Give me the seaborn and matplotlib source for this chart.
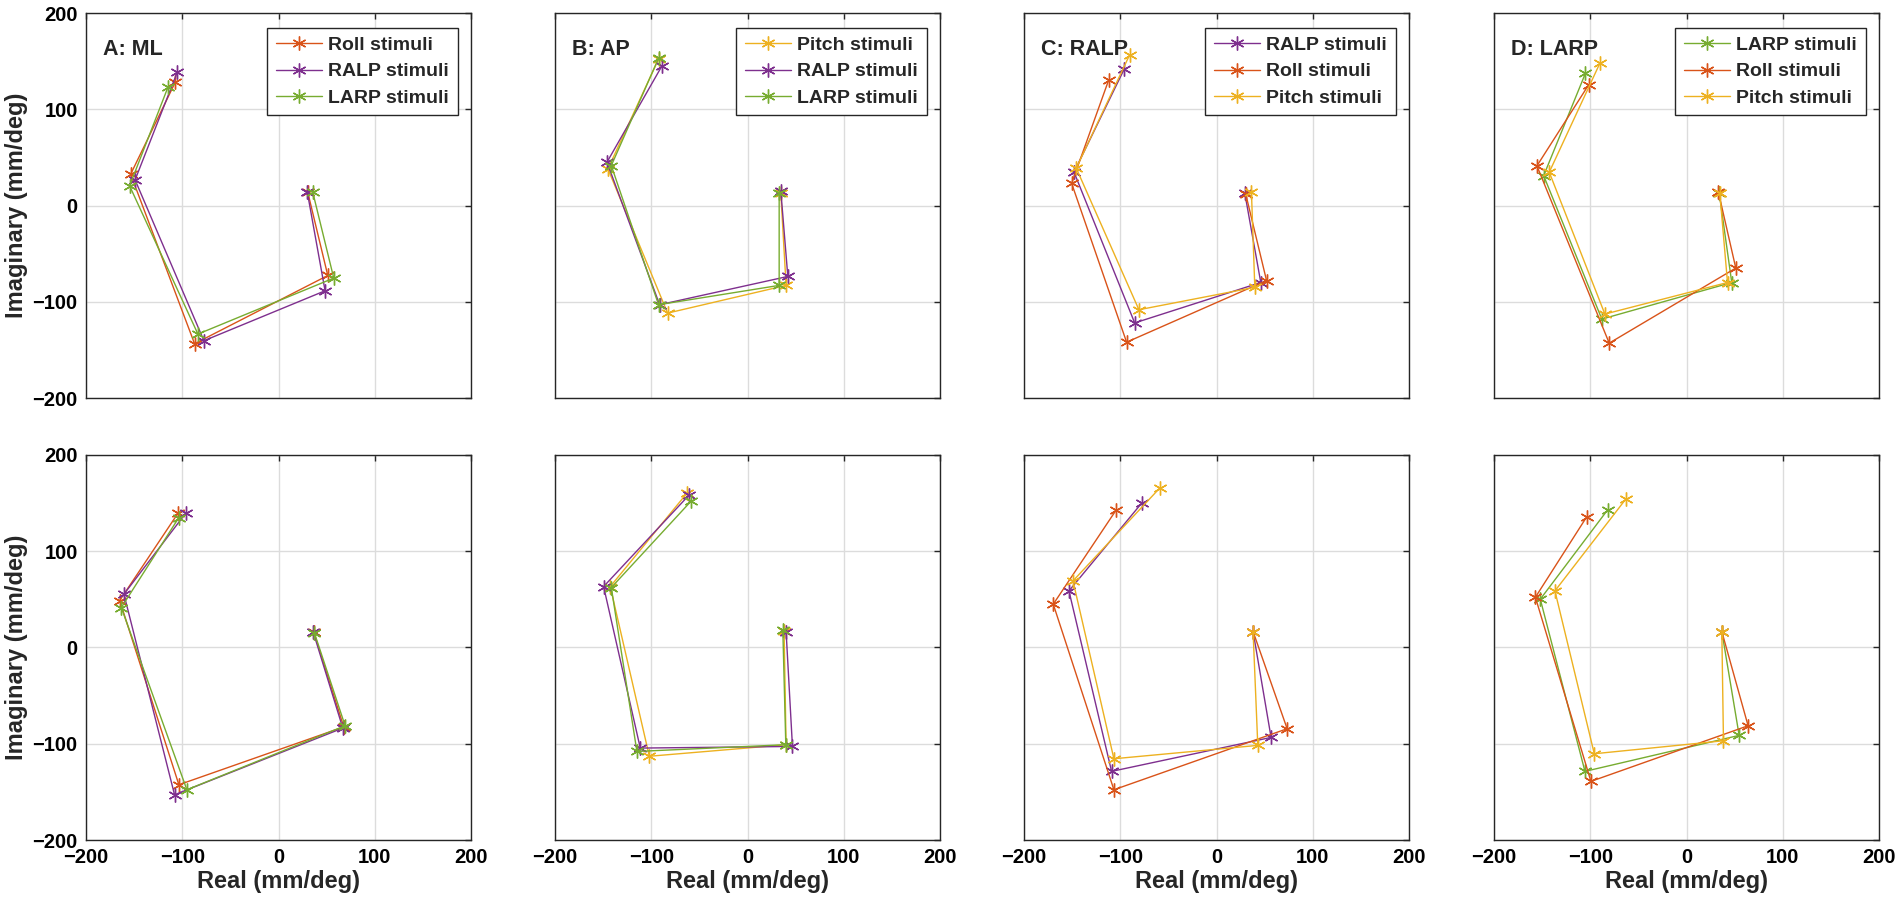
import matplotlib
matplotlib.use("Agg")
import matplotlib.pyplot as plt
import seaborn as sns
import pandas as pd

sns.set_style("white")
plt.rcParams['font.family'] = ['Liberation Sans', 'DejaVu Sans']
plt.rcParams['font.weight'] = 'bold'

# colours (MATLAB default order)
colors = {
    'Roll stimuli': '#D95319',
    'Pitch stimuli': '#EDB120',
    'RALP stimuli': '#7E2F8E',
    'LARP stimuli': '#77AC30',
}

titles = ['A: ML', 'B: AP', 'C: RALP', 'D: LARP']
legend_order = [
    ['Roll stimuli', 'RALP stimuli', 'LARP stimuli'],
    ['Pitch stimuli', 'RALP stimuli', 'LARP stimuli'],
    ['RALP stimuli', 'Roll stimuli', 'Pitch stimuli'],
    ['LARP stimuli', 'Roll stimuli', 'Pitch stimuli'],
]

# ---- top row: real / imaginary parts, 5 points per curve ----
top_A_roll_re = [30.4, 51.2, -87.2, -153.6, -107.3]
top_A_roll_im = [13.8, -72.7, -143.6, 32.5, 128.0]
top_A_ralp_re = [29.8, 48.4, -77.5, -149.0, -105.2]
top_A_ralp_im = [14.5, -88.6, -140.5, 26.6, 138.4]
top_A_larp_re = [35.6, 57.4, -83.7, -154.7, -114.9]
top_A_larp_im = [13.8, -75.4, -133.6, 20.4, 122.8]

top_B_pitch_re = [34.6, 40.1, -83.0, -145.0, -92.4]
top_B_pitch_im = [12.8, -83.0, -111.8, 38.0, 152.2]
top_B_ralp_re = [34.6, 41.9, -91.3, -146.0, -88.9]
top_B_ralp_im = [15.2, -73.7, -103.1, 45.0, 145.0]
top_B_larp_re = [32.9, 32.9, -92.4, -141.5, -92.4]
top_B_larp_im = [12.8, -83.0, -103.1, 41.5, 153.0]

top_C_ralp_re = [29.4, 46.0, -85.0, -148.0, -96.0]
top_C_ralp_im = [12.8, -80.0, -122.0, 34.6, 141.5]
top_C_roll_re = [30.4, 52.0, -93.4, -150.5, -112.0]
top_C_roll_im = [11.8, -78.0, -142.0, 23.0, 130.4]
top_C_pitch_re = [36.3, 39.8, -80.6, -145.7, -90.3]
top_C_pitch_im = [13.8, -85.0, -108.3, 38.8, 156.4]

top_D_larp_re = [34.0, 47.0, -88.0, -148.4, -105.0]
top_D_larp_im = [12.8, -80.0, -118.0, 31.0, 137.4]
top_D_roll_re = [33.2, 51.2, -80.3, -155.4, -101.7]
top_D_roll_im = [13.8, -65.0, -143.0, 41.2, 125.3]
top_D_pitch_re = [34.6, 42.6, -84.8, -142.6, -90.0]
top_D_pitch_im = [12.8, -80.0, -112.8, 34.6, 147.8]

# ---- bottom row ----
bot_A_roll_re = [36.7, 67.8, -103.5, -165.0, -104.5]
bot_A_roll_im = [15.9, -82.5, -142.6, 48.8, 139.4]
bot_A_ralp_re = [36.0, 66.8, -108.0, -160.6, -96.5]
bot_A_ralp_im = [16.3, -83.7, -153.0, 55.4, 139.4]
bot_A_larp_re = [37.2, 69.2, -95.2, -163.3, -103.5]
bot_A_larp_im = [15.5, -81.3, -147.8, 41.5, 135.0]

bot_B_pitch_re = [38.0, 40.1, -102.0, -142.6, -63.0]
bot_B_pitch_im = [17.3, -101.0, -113.0, 63.3, 160.2]
bot_B_ralp_re = [40.1, 46.7, -111.4, -149.5, -60.6]
bot_B_ralp_im = [16.6, -102.8, -104.5, 63.3, 158.5]
bot_B_larp_re = [36.7, 39.8, -114.9, -141.5, -58.5]
bot_B_larp_im = [18.3, -101.0, -108.0, 62.3, 152.2]

bot_C_ralp_re = [38.0, 56.7, -109.0, -153.3, -77.9]
bot_C_ralp_im = [16.6, -93.4, -128.7, 58.8, 149.8]
bot_C_roll_re = [38.0, 73.4, -106.6, -169.6, -104.2]
bot_C_roll_im = [16.6, -84.4, -147.8, 45.0, 142.9]
bot_C_pitch_re = [38.0, 42.9, -106.6, -149.1, -59.2]
bot_C_pitch_im = [16.6, -101.7, -115.6, 69.2, 165.4]

bot_D_larp_re = [36.7, 54.7, -105.5, -151.9, -82.0]
bot_D_larp_im = [16.6, -91.3, -128.7, 50.2, 142.9]
bot_D_roll_re = [36.7, 64.0, -99.3, -157.0, -103.5]
bot_D_roll_im = [16.6, -81.3, -139.1, 52.2, 136.0]
bot_D_pitch_re = [36.7, 38.4, -95.8, -136.7, -63.0]
bot_D_pitch_im = [16.6, -96.9, -110.4, 58.8, 154.3]

rows = [
    [
        [(top_A_roll_re, top_A_roll_im), (top_A_ralp_re, top_A_ralp_im), (top_A_larp_re, top_A_larp_im)],
        [(top_B_pitch_re, top_B_pitch_im), (top_B_ralp_re, top_B_ralp_im), (top_B_larp_re, top_B_larp_im)],
        [(top_C_ralp_re, top_C_ralp_im), (top_C_roll_re, top_C_roll_im), (top_C_pitch_re, top_C_pitch_im)],
        [(top_D_larp_re, top_D_larp_im), (top_D_roll_re, top_D_roll_im), (top_D_pitch_re, top_D_pitch_im)],
    ],
    [
        [(bot_A_roll_re, bot_A_roll_im), (bot_A_ralp_re, bot_A_ralp_im), (bot_A_larp_re, bot_A_larp_im)],
        [(bot_B_pitch_re, bot_B_pitch_im), (bot_B_ralp_re, bot_B_ralp_im), (bot_B_larp_re, bot_B_larp_im)],
        [(bot_C_ralp_re, bot_C_ralp_im), (bot_C_roll_re, bot_C_roll_im), (bot_C_pitch_re, bot_C_pitch_im)],
        [(bot_D_larp_re, bot_D_larp_im), (bot_D_roll_re, bot_D_roll_im), (bot_D_pitch_re, bot_D_pitch_im)],
    ],
]

ticks = [-200, -100, 0, 100, 200]
W, H = 1902, 913
lefts = [86, 555, 1024, 1494]
tops = [13, 455]
size = 385

fig = plt.figure(figsize=(W / 100, H / 100), dpi=100)

for r in range(2):
    for c in range(4):
        ax = fig.add_axes([lefts[c] / W, 1 - (tops[r] + size) / H, size / W, size / H])
        for k, (re, im) in enumerate(rows[r][c]):
            name = legend_order[c][k]
            df = pd.DataFrame({'re': re, 'im': im})
            sns.lineplot(data=df, x='re', y='im', sort=False, estimator=None, ax=ax,
                         color=colors[name], linewidth=1.0, marker=(6, 2, 0),
                         markersize=10, mec=colors[name], mew=1.0,
                         label=name if r == 0 else None)
        ax.set_xlim(-200, 200)
        ax.set_ylim(-200, 200)
        ax.set_xticks(ticks)
        ax.set_yticks(ticks)
        ax.grid(True, color='#dcdcdc', linewidth=1.0)
        ax.set_axisbelow(True)
        ax.tick_params(direction='in', length=4, width=1, top=True, right=True, pad=6,
                       labelsize=14.5, color='#262626', labelcolor='black')
        for s in ax.spines.values():
            s.set_color('#262626')
            s.set_linewidth(1.0)
        if c == 0:
            ax.set_ylabel('Imaginary (mm/deg)', fontsize=17, fontweight='bold', labelpad=3)
        else:
            ax.set_ylabel('')
            ax.set_yticklabels([])
        if r == 1:
            ax.set_xlabel('Real (mm/deg)', fontsize=17, fontweight='bold', labelpad=2)
        else:
            ax.set_xlabel('')
            ax.set_xticklabels([])
        if r == 0:
            ax.text(0.044, 0.905, titles[c], transform=ax.transAxes, fontsize=15.5,
                    fontweight='bold', va='center', ha='left')
            leg = ax.legend(loc='upper right', bbox_to_anchor=(0.965, 0.962), borderaxespad=0,
                            fancybox=False, framealpha=1, edgecolor='#262626',
                            prop={'size': 14, 'weight': 'bold'}, handlelength=2.4,
                            handletextpad=0.3, labelspacing=0.45, borderpad=0.45)
            leg.get_frame().set_linewidth(1.0)
        else:
            if ax.get_legend() is not None:
                ax.get_legend().remove()

fig.savefig('out.png', dpi=100)
